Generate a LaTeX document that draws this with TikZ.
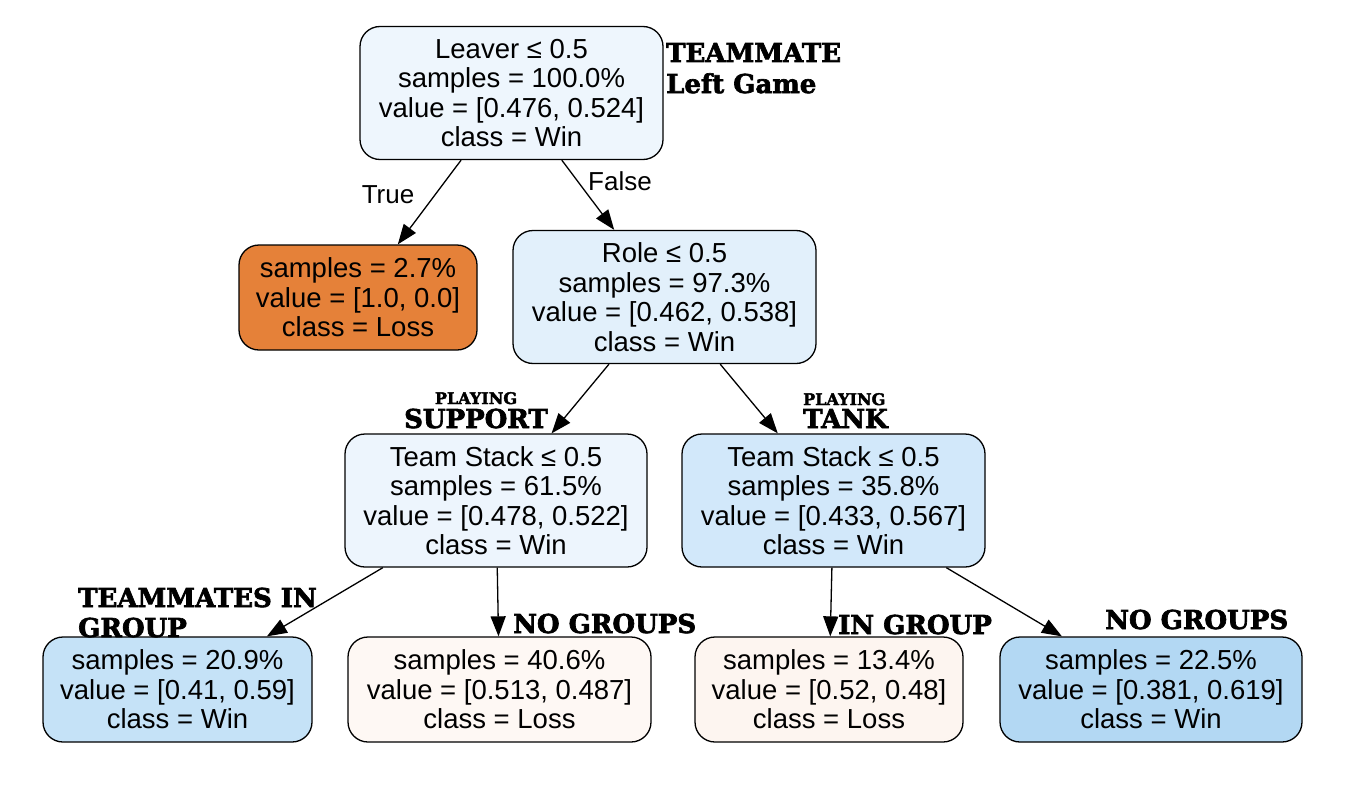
\documentclass[tikz,border=0pt]{standalone}
\usepackage{fontspec}
\setmainfont{Liberation Sans}
\newfontfamily\annfont[BoldFeatures={FakeBold=2.5}]{DejaVu Serif}
\usetikzlibrary{arrows.meta}
\definecolor{croot}{RGB}{238,246,253}
\definecolor{cleft}{RGB}{229,129,57}
\definecolor{crole}{RGB}{226,240,251}
\definecolor{ctl}{RGB}{237,245,253}
\definecolor{ctr}{RGB}{210,232,250}
\definecolor{cla}{RGB}{197,226,247}
\definecolor{clb}{RGB}{254,248,244}
\definecolor{clc}{RGB}{253,245,240}
\definecolor{cld}{RGB}{179,216,243}
\begin{document}
\begin{tikzpicture}[x=1pt,y=-1pt,
  tnode/.style={draw=black, line width=1.3pt, rounded corners=20pt, align=center, inner sep=0pt,
    font=\fontsize{27.5}{29.5}\selectfont},
  four/.style={minimum height=133pt},
  three/.style={minimum height=105pt},
  edge/.style={line width=1.3pt, -{Triangle[length=20pt,width=15pt]}},
  elabel/.style={inner sep=0pt, font=\fontsize{26}{29}\selectfont},
  ann/.style={inner sep=0pt, anchor=base west, font=\annfont\bfseries\fontsize{26}{30}\selectfont},
  annsmall/.style={inner sep=0pt, anchor=base west, font=\annfont\bfseries\fontsize{16}{18}\selectfont}]
\useasboundingbox (0,0) rectangle (1348,808);
\fill[white] (0,0) rectangle (1348,808);

\node[tnode, four, fill=croot, minimum width=303pt] (root) at (511.5,93)
  {Leaver ≤ 0.5\\samples = 100.0\%\\value = [0.476, 0.524]\\class = Win};
\node[tnode, three, fill=cleft, minimum width=238pt] (lleaf) at (358,297.5)
  {samples = 2.7\%\\value = [1.0, 0.0]\\class = Loss};
\node[tnode, four, fill=crole, minimum width=303pt] (role) at (664.5,297)
  {Role ≤ 0.5\\samples = 97.3\%\\value = [0.462, 0.538]\\class = Win};
\node[tnode, four, fill=ctl, minimum width=302pt] (tsl) at (496,500.5)
  {Team Stack ≤ 0.5\\samples = 61.5\%\\value = [0.478, 0.522]\\class = Win};
\node[tnode, four, fill=ctr, minimum width=303pt] (tsr) at (833.5,500.5)
  {Team Stack ≤ 0.5\\samples = 35.8\%\\value = [0.433, 0.567]\\class = Win};
\node[tnode, three, fill=cla, minimum width=269pt] (la) at (177.5,689.5)
  {samples = 20.9\%\\value = [0.41, 0.59]\\class = Win};
\node[tnode, three, fill=clb, minimum width=303pt] (lb) at (499.5,689.5)
  {samples = 40.6\%\\value = [0.513, 0.487]\\class = Loss};
\node[tnode, three, fill=clc, minimum width=268pt] (lc) at (829,689.5)
  {samples = 13.4\%\\value = [0.52, 0.48]\\class = Loss};
\node[tnode, three, fill=cld, minimum width=302pt] (ld) at (1151,689.5)
  {samples = 22.5\%\\value = [0.381, 0.619]\\class = Win};

\draw[edge] (root) -- (lleaf);
\draw[edge] (root) -- (role);
\draw[edge] (role) -- (tsl);
\draw[edge] (role) -- (tsr);
\draw[edge] (tsl) -- (la);
\draw[edge] (tsl) -- (lb);
\draw[edge] (tsr) -- (lc);
\draw[edge] (tsr) -- (ld);

\node[elabel] (ltrue) at (388,195) {True};
\node[elabel] (lfalse) at (620,181) {False};

\node[ann] (a1) at (666,62) {TEAMMATE};
\node[ann] (a2) at (666,93) {Left Game};
\node[annsmall, anchor=base] (a3) at (476,404) {PLAYING};
\node[ann, anchor=base] (a4) at (476,428) {SUPPORT};
\node[annsmall] (a5) at (803,405) {PLAYING};
\node[ann] (a6) at (803,428) {TANK};
\node[ann] (a7) at (78,607) {TEAMMATES IN};
\node[ann] (a8) at (78,637) {GROUP};
\node[ann] (a9) at (513,633) {NO GROUPS};
\node[ann] (a10) at (838,634) {IN GROUP};
\node[ann] (a11) at (1105,629) {NO GROUPS};
\end{tikzpicture}
\end{document}
